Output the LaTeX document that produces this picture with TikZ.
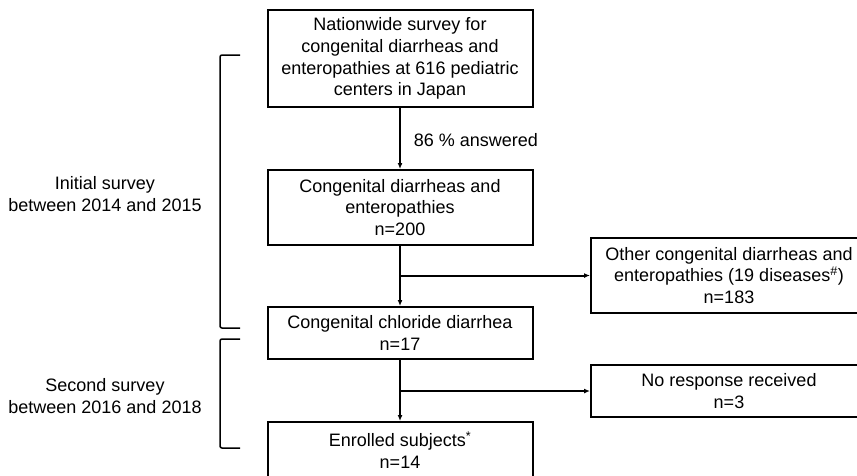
\documentclass[tikz,border=0pt]{standalone}
\usepackage{fontspec}
\setmainfont{Liberation Sans}
\usetikzlibrary{arrows.meta}

\begin{document}
\begin{tikzpicture}
        [x=1pt, y=-1pt,
        box/.style={draw, line width=2pt, align=center, inner sep=0pt, minimum width=265pt, font=\fontsize{18}{21.7}\selectfont},
        side/.style={minimum width=276pt},
        lbl/.style={align=center, inner sep=0pt, font=\fontsize{18}{21.7}\selectfont},
        flow/.style={line width=2pt, -{Latex[length=6pt, width=5pt]}},
        bracket/.style={line width=1.5pt, rounded corners=2pt}]

        \useasboundingbox (0,0) rectangle (857,475);

        % main column
        \node[box, minimum height=97pt] (survey) at (400,58.5) {Nationwide survey for\\congenital diarrheas and\\enteropathies at 616 pediatric\\centers in Japan};
        \node[box, minimum height=75pt] (cd) at (400,207.5) {Congenital diarrheas and\\enteropathies\\n=200};
        \node[box, minimum height=52pt] (ccd) at (400,333) {Congenital chloride diarrhea\\n=17};
        \node[box, minimum height=56pt] (enrolled) at (400,450) {Enrolled subjects\textsuperscript{*}\\n=14};

        % excluded boxes
        \node[box, side, minimum height=75pt] (other) at (729,275.5) {Other congenital diarrheas and\\enteropathies (19 diseases\textsuperscript{\#})\\n=183};
        \node[box, side, minimum height=52pt] (noresp) at (729,391) {No response received\\n=3};

        \node[lbl] (answered) at (476,140) {86 \% answered};

        % arrows
        \draw[flow] (survey) -- (cd);
        \draw[flow] (cd) -- (ccd);
        \draw[flow] (ccd) -- (enrolled);
        \draw[flow] (cd.south |- other.west) -- (other.west);
        \draw[flow] (ccd.south |- noresp.west) -- (noresp.west);

        % survey brackets
        \draw[bracket] (240,55) -- (220,55) -- (220,328) -- (240,328);
        \draw[bracket] (240,339) -- (220,339) -- (220,448) -- (240,448);

        \node[lbl] (initial) at (105,194) {Initial survey\\between 2014 and 2015};
        \node[lbl] (second) at (105,396) {Second survey\\between 2016 and 2018};

\end{tikzpicture}
\end{document}
